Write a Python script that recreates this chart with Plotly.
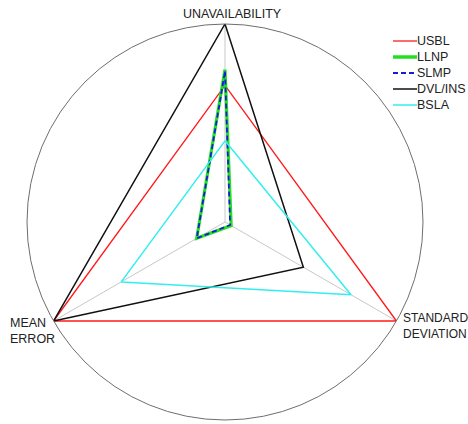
import plotly.graph_objects as go

# Axes of the radar (clockwise from the top) and normalised scores per method
axes = ["UNAVAILABILITY", "STANDARD DEVIATION", "MEAN ERROR"]
usbl = [0.69, 1.00, 1.00]
llnp = [0.77, 0.036, 0.165]
slmp = [0.76, 0.03, 0.165]
dvl_ins = [1.00, 0.457, 1.00]
bsla = [0.41, 0.735, 0.605]

series = [
    ("USBL", usbl, "#ff1a1a", 1.3, "solid"),
    ("LLNP", llnp, "#22e01e", 3.2, "solid"),
    ("SLMP", slmp, "#1a1adc", 1.8, "5px,3px"),
    ("DVL/INS", dvl_ins, "#111111", 1.5, "solid"),
    ("BSLA", bsla, "#33eeee", 1.5, "solid"),
]

W, H = 468, 424


def px(x):
    return x / W


def py(y):
    return 1 - y / H


fig = go.Figure()
for name, vals, color, width, dash in series:
    fig.add_trace(go.Scatterpolar(
        r=vals + vals[:1],
        theta=axes + axes[:1],
        mode="lines",
        name=name,
        line=dict(color=color, width=width, dash=dash),
        showlegend=False,
    ))

# circle of radius 198 px centred at (225, 222)
cx, cy, rad = 225, 222, 198
fig.update_layout(
    width=W, height=H,
    margin=dict(l=0, r=0, t=0, b=0),
    paper_bgcolor="white",
    plot_bgcolor="white",
    polar=dict(
        domain=dict(x=[px(cx - rad), px(cx + rad)], y=[py(cy + rad), py(cy - rad)]),
        bgcolor="white",
        radialaxis=dict(range=[0, 1], visible=False, showgrid=False),
        angularaxis=dict(
            rotation=90, direction="clockwise",
            showticklabels=False, ticks="",
            showline=True, linecolor="#6e6e6e", linewidth=1,
            showgrid=True, gridcolor="#c8c8c8", gridwidth=1.4,
        ),
    ),
    showlegend=False,
)

font = dict(family="Liberation Sans, Arial, sans-serif", size=12.5, color="#222222")
font_sd = dict(font, size=12)

# axis titles
fig.add_annotation(x=px(232.5), y=py(14), text=axes[0], showarrow=False,
                   xref="paper", yref="paper", xanchor="center", yanchor="middle", font=font)
fig.add_annotation(x=px(401), y=py(326), text="STANDARD<br>DEVIATION", showarrow=False,
                   xref="paper", yref="paper", xanchor="left", yanchor="middle",
                   align="left", font=font_sd)
fig.add_annotation(x=px(8), y=py(331), text="MEAN<br>ERROR", showarrow=False,
                   xref="paper", yref="paper", xanchor="left", yanchor="middle",
                   align="left", font=font)

# legend block in the upper right
lx0, lx1, ly0, lstep = 393, 417, 41, 16
for i, (name, vals, color, width, dash) in enumerate(series):
    y = ly0 + i * lstep
    fig.add_shape(type="line", xref="paper", yref="paper",
                  x0=px(lx0), x1=px(lx1), y0=py(y), y1=py(y),
                  line=dict(color=color, width=width if name != "LLNP" else 3.5,
                            dash=dash))
    fig.add_annotation(x=px(lx1), y=py(y), text=name, showarrow=False,
                       xref="paper", yref="paper", xanchor="left", yanchor="middle",
                       xshift=-2, font=font)

fig.write_html("out.html")
